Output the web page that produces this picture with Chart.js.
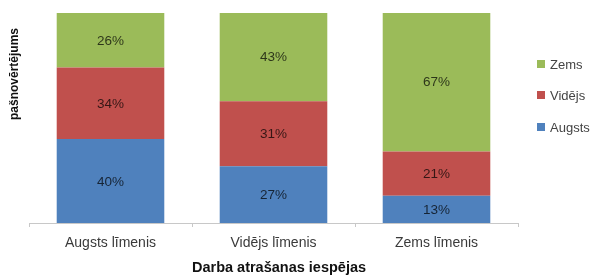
<!DOCTYPE html>
<html>
<head>
<meta charset="utf-8">
<script src="https://cdn.jsdelivr.net/npm/chart.js@4"></script>
<style>
  html, body { margin: 0; padding: 0; background: #fff; }
  #wrap { width: 595px; height: 276px; }
</style>
</head>
<body>
<div id="wrap"><canvas id="chart" width="595" height="276"></canvas></div>
<script>
const categories = ['Augsts līmenis', 'Vidējs līmenis', 'Zems līmenis'];
const augsts = [40, 27, 13];
const videjs = [34, 31, 21];
const zems = [26, 43, 67];
const seriesNames = ['Augsts', 'Vidējs', 'Zems'];
const colors = ['#4F81BD', '#C0504D', '#9BBB59'];

const FONT = '"Liberation Sans", Arial, sans-serif';

const labelPlugin = {
    id: 'extras',
    afterDatasetsDraw(chart) {
        const ctx = chart.ctx;
        ctx.save();
        ctx.font = '13.5px ' + FONT;
        ctx.fillStyle = 'rgba(0,0,0,0.72)';
        ctx.textAlign = 'center';
        ctx.textBaseline = 'middle';
        chart.data.datasets.forEach((ds, i) => {
            chart.getDatasetMeta(i).data.forEach((bar, j) => {
                const y = (bar.y + bar.base) / 2;
                ctx.fillText(ds.data[j] + '%', bar.x, y + 1);
            });
        });

        // axis titles
        ctx.font = 'bold 14.5px ' + FONT;
        ctx.fillStyle = '#111';
        ctx.fillText('Darba atrašanas iespējas', 279, 268);
        ctx.save();
        ctx.translate(15, 74);
        ctx.rotate(-Math.PI / 2);
        ctx.font = 'bold 12px ' + FONT;
        ctx.fillText('pašnovērtējums', 0, 0);
        ctx.restore();

        // legend (reverse order)
        ctx.font = '13px ' + FONT;
        ctx.textAlign = 'left';
        const legendY = [64, 95, 127];
        for (let k = 0; k < 3; k++) {
            const idx = 2 - k;
            ctx.fillStyle = colors[idx];
            ctx.fillRect(537, legendY[k] - 4, 8, 8);
            ctx.fillStyle = '#444';
            ctx.fillText(seriesNames[idx], 550, legendY[k] + 1);
        }
        ctx.restore();
    }
};

new Chart(document.getElementById('chart'), {
    type: 'bar',
    data: {
        labels: categories,
        datasets: [
            { label: seriesNames[0], data: augsts, backgroundColor: colors[0] },
            { label: seriesNames[1], data: videjs, backgroundColor: colors[1] },
            { label: seriesNames[2], data: zems, backgroundColor: colors[2] }
        ]
    },
    options: {
        responsive: false,
        animation: false,
        devicePixelRatio: 1,
        layout: { padding: { left: 29, right: 77, top: 13, bottom: 0 } },
        plugins: { legend: { display: false }, tooltip: { enabled: false } },
        datasets: { bar: { categoryPercentage: 0.66, barPercentage: 1 } },
        scales: {
            x: {
                stacked: true,
                grid: { offset: true, drawOnChartArea: false, tickLength: 4, color: '#c8c8c8' },
                border: { color: '#c8c8c8' },
                ticks: { font: { family: FONT, size: 14 }, color: '#3a3a3a', padding: 8 },
                afterFit(scale) { scale.height = 53; }
            },
            y: {
                stacked: true,
                display: false,
                min: 0,
                max: 100
            }
        }
    },
    plugins: [labelPlugin]
});
</script>
</body>
</html>
